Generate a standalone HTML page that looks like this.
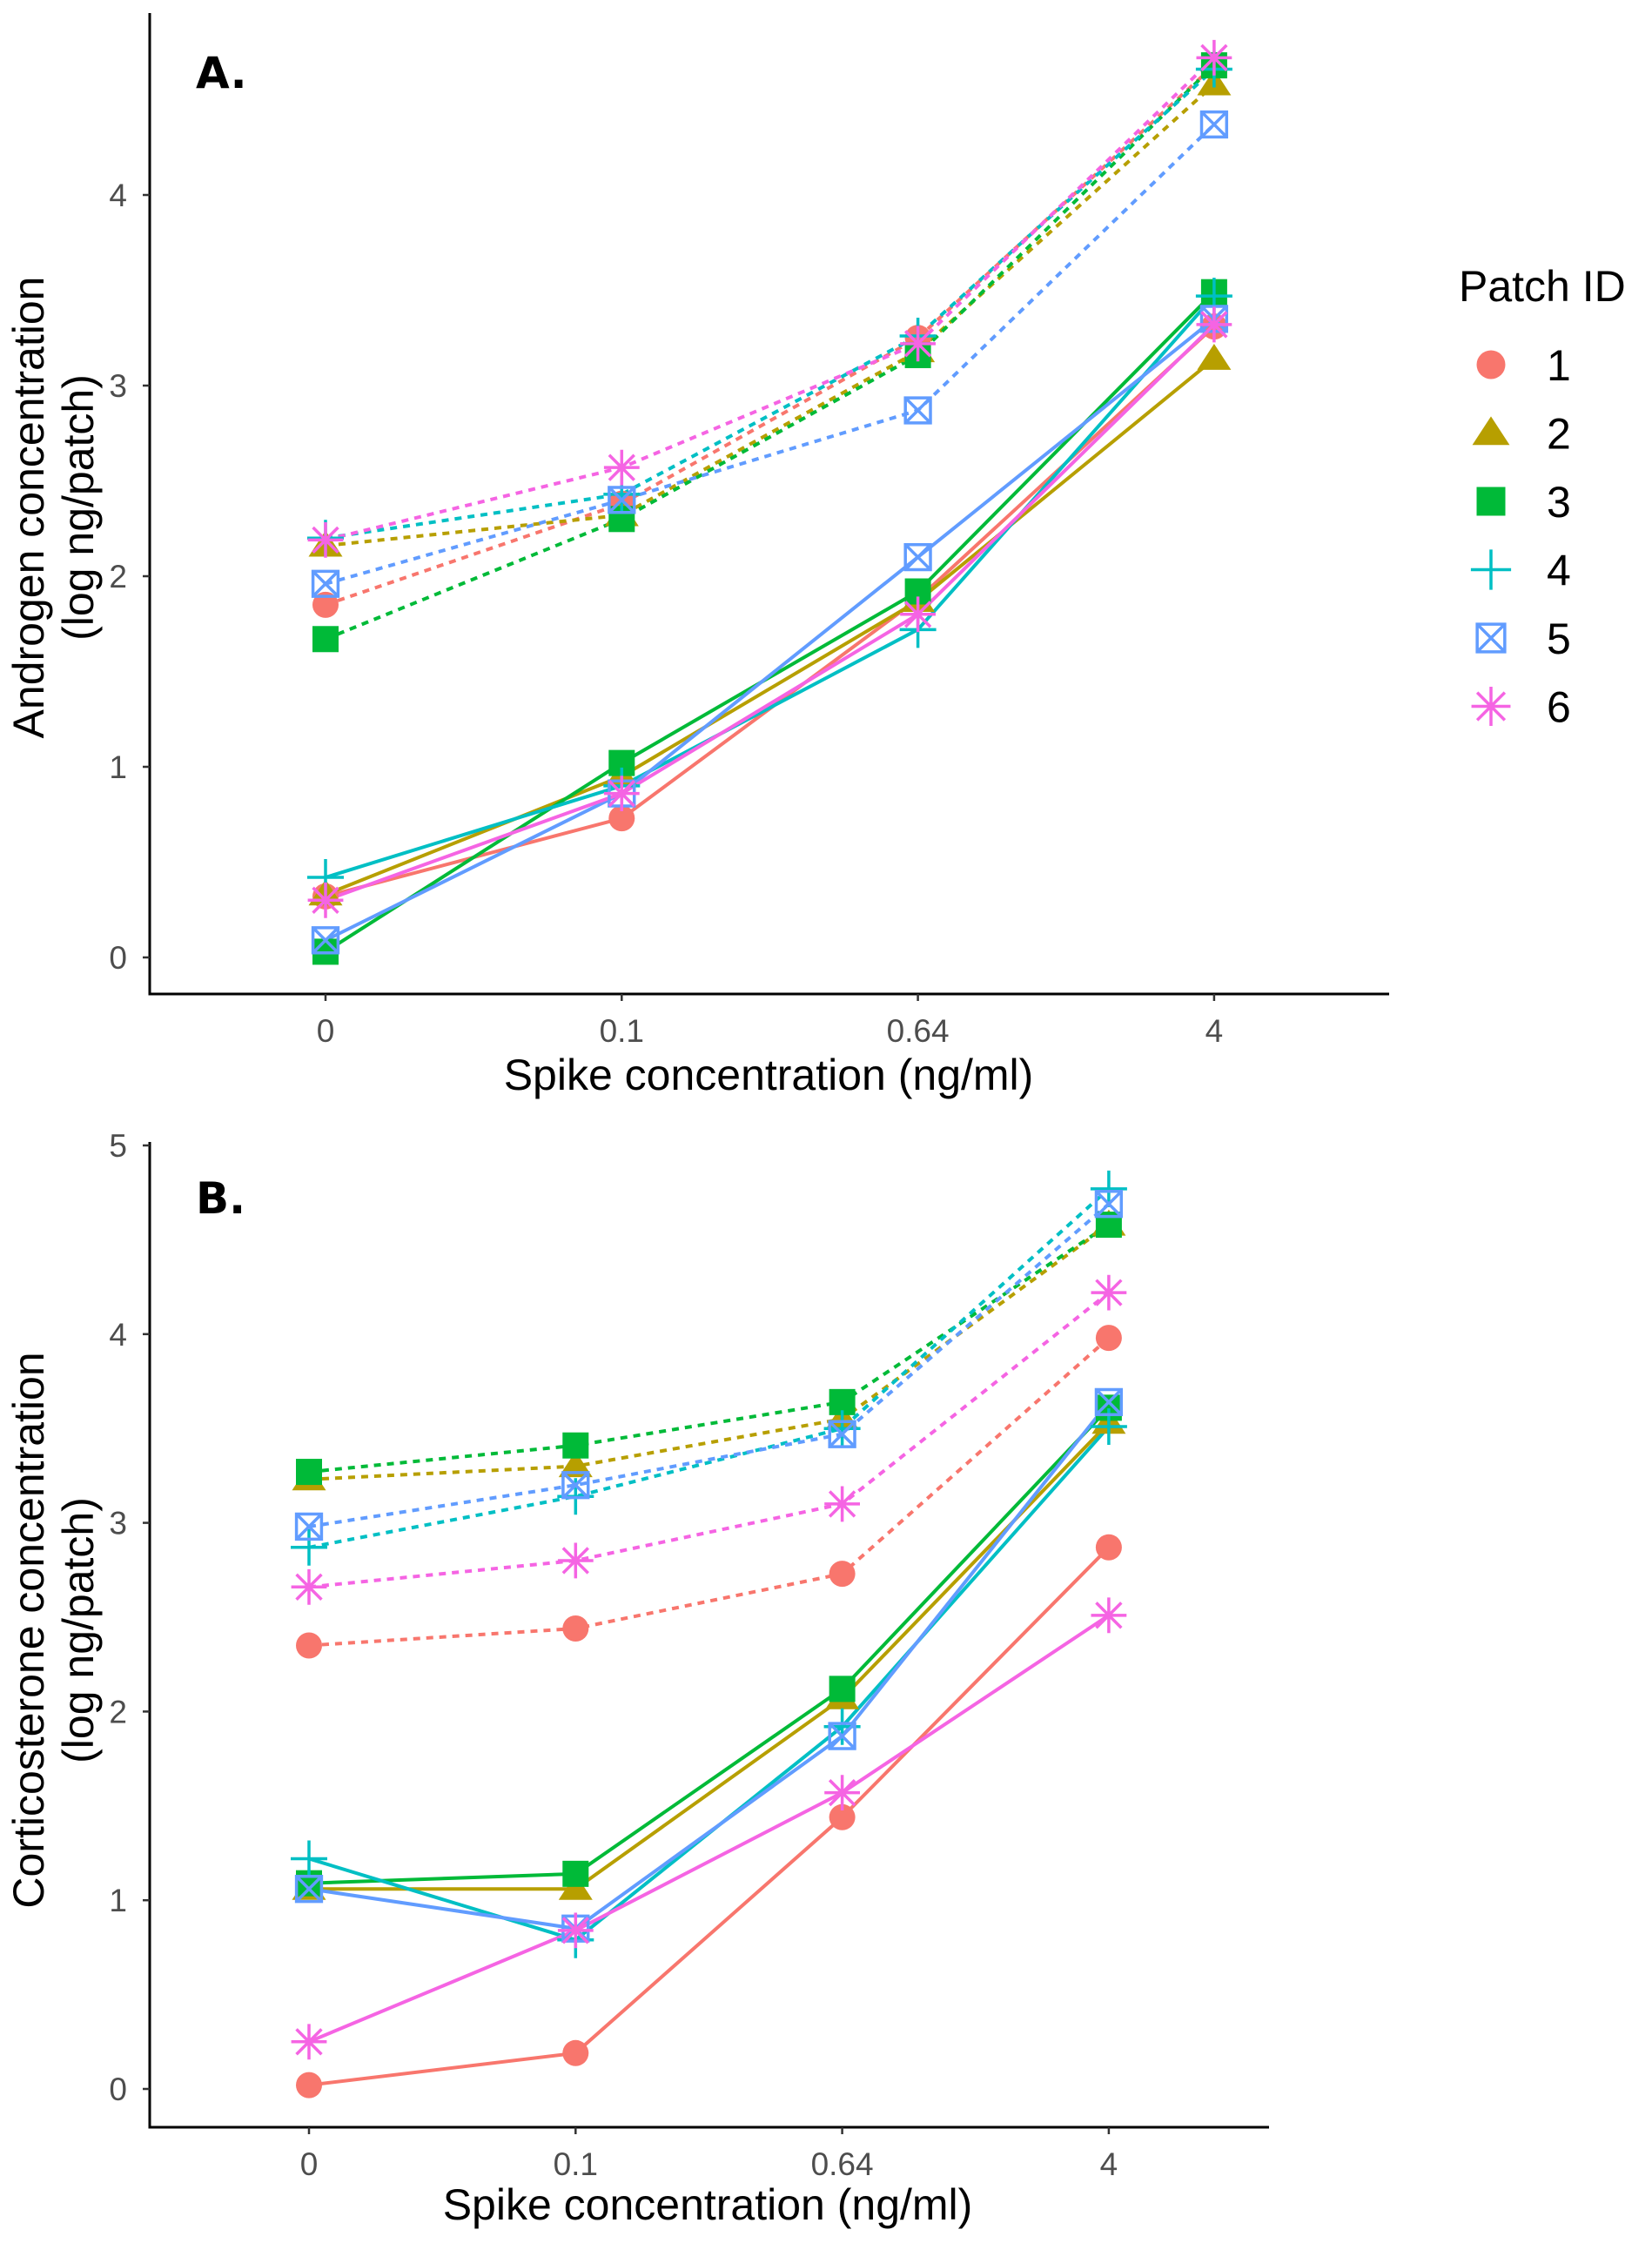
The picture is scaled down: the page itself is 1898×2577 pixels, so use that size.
<!DOCTYPE html>
<html><head><meta charset="utf-8"><style>
html,body{margin:0;padding:0;background:#fff}
svg{display:block;font-family:"Liberation Sans",sans-serif}
</style></head><body>
<svg id="fig" width="1898" height="2577" viewBox="0 0 1898 2577" xmlns="http://www.w3.org/2000/svg"></svg>
<script>
const categories = ["0","0.1","0.64","4"];
const colors = ["#F8766D","#B79F00","#00BA38","#00BFC4","#619CFF","#F564E3"];
const patchIds = ["1","2","3","4","5","6"];
// Panel A: androgen
const aDashed1=[1.85,2.38,3.25,4.68], aDashed2=[2.16,2.32,3.18,4.58], aDashed3=[1.67,2.30,3.16,4.68],
      aDashed4=[2.20,2.43,3.26,4.66], aDashed5=[1.96,2.40,2.87,4.37], aDashed6=[2.19,2.57,3.22,4.72];
const aSolid1=[0.32,0.73,1.88,3.31], aSolid2=[0.33,0.95,1.87,3.14], aSolid3=[0.03,1.02,1.92,3.49],
      aSolid4=[0.42,0.90,1.72,3.47], aSolid5=[0.09,0.86,2.10,3.35], aSolid6=[0.30,0.86,1.80,3.32];
// Panel B: corticosterone
const bDashed1=[2.35,2.44,2.73,3.98], bDashed2=[3.23,3.30,3.55,4.58], bDashed3=[3.27,3.41,3.64,4.58],
      bDashed4=[2.87,3.14,3.50,4.77], bDashed5=[2.98,3.20,3.47,4.69], bDashed6=[2.66,2.80,3.10,4.22];
const bSolid1=[0.02,0.19,1.44,2.87], bSolid2=[1.06,1.06,2.07,3.53], bSolid3=[1.09,1.14,2.12,3.61],
      bSolid4=[1.22,0.79,1.92,3.51], bSolid5=[1.06,0.85,1.87,3.64], bSolid6=[0.25,0.84,1.57,2.51];
const aTicks=[0,1,2,3,4];
const bTicks=[0,1,2,3,4,5];

const NS="http://www.w3.org/2000/svg";
const svg=document.getElementById('fig');
function mk(tag,attrs,parent){const e=document.createElementNS(NS,tag);for(const k in attrs)e.setAttribute(k,attrs[k]);(parent||svg).appendChild(e);return e;}

function marker(g,shape,cx,cy,col,s){
  let e;
  if(shape===0){e=mk('circle',{cx:cx,cy:cy,r:s*0.5,fill:col},g);}
  else if(shape===1){const h=s*0.58;e=mk('polygon',{points:`${cx},${cy-h} ${cx+s*0.65},${cy+h*0.72} ${cx-s*0.65},${cy+h*0.72}`,fill:col},g);}
  else if(shape===2){e=mk('rect',{x:cx-s*0.5,y:cy-s*0.5,width:s,height:s,fill:col},g);}
  else if(shape===3){e=mk('path',{d:`M${cx-s*0.7},${cy}H${cx+s*0.7}M${cx},${cy-s*0.7}V${cy+s*0.7}`,stroke:col,'stroke-width':3.5,fill:'none'},g);}
  else if(shape===4){const r=s*0.48;e=mk('path',{d:`M${cx-r},${cy-r}h${2*r}v${2*r}h${-2*r}zM${cx-r},${cy-r}L${cx+r},${cy+r}M${cx+r},${cy-r}L${cx-r},${cy+r}`,stroke:col,'stroke-width':3.5,fill:'none'},g);}
  else {const r=s*0.68,d=r*0.707;e=mk('path',{d:`M${cx-r},${cy}H${cx+r}M${cx},${cy-r}V${cy+r}M${cx-d},${cy-d}L${cx+d},${cy+d}M${cx+d},${cy-d}L${cx-d},${cy+d}`,stroke:col,'stroke-width':3.5,fill:'none'},g);}
  return e;
}

function panel(cfg){
  const {name,x0,xStep,y0,unit,axTop,axBottom,axRight,axLeft,ticks,dashed,solid,label,ytitle,xtitleX,xtitleY,ytitleY}=cfg;
  const X=i=>x0+i*xStep, Y=v=>y0-v*unit;
  const g=mk('g',{});
  
  
  const ya=mk('line',{x1:axLeft,y1:axTop,x2:axLeft,y2:axBottom,stroke:'#000','stroke-width':3},g);
  
  const xa=mk('line',{x1:axLeft-1.5,y1:axBottom,x2:axRight,y2:axBottom,stroke:'#000','stroke-width':3},g);
  
  ticks.forEach(t=>{
    mk('line',{x1:axLeft-8,y1:Y(t),x2:axLeft,y2:Y(t),stroke:'#333','stroke-width':2.5},g);
    const tl=mk('text',{x:axLeft-26,y:Y(t)+13,'text-anchor':'end','font-size':37,fill:'#4d4d4d'},g);
    tl.textContent=t;
    
  });
  categories.forEach((c,i)=>{
    mk('line',{x1:X(i),y1:axBottom,x2:X(i),y2:axBottom+8,stroke:'#333','stroke-width':2.5},g);
    const tl=mk('text',{x:X(i),y:axBottom+55,'text-anchor':'middle','font-size':37,fill:'#4d4d4d'},g);
    tl.textContent=c;
    
  });
  const draw=(series,dash,kind)=>{
    series.forEach((vals,k)=>{
      const p=mk('polyline',{points:vals.map((v,i)=>X(i)+','+Y(v)).join(' '),fill:'none',stroke:colors[k],'stroke-width':4,'stroke-dasharray':dash?'8 7':'none'},g);
      
      
    });
  };
  draw(dashed,true,'dashed');draw(solid,false,'solid');
  const pts=(series,kind)=>series.forEach((vals,k)=>vals.forEach((v,i)=>{
    const m=marker(g,k,X(i),Y(v),colors[k],30);
    
    
  }));
  pts(dashed,'dashed');pts(solid,'solid');
  const pl=mk('text',{x:225,y:cfg.labelY,'font-size':50,'font-weight':'bold','font-family':'"DejaVu Sans",sans-serif'},g);
  pl.textContent=label;
  const yt=mk('text',{transform:`translate(50,${ytitleY}) rotate(-90)`,'text-anchor':'middle','font-size':50},g);
  
  const t1=mk('tspan',{x:0,y:0},yt);t1.textContent=ytitle;
  const t2=mk('tspan',{x:0,dy:57},yt);t2.textContent='(log ng/patch)';
  const xt=mk('text',{x:xtitleX,y:xtitleY,'text-anchor':'middle','font-size':50},g);
  xt.textContent='Spike concentration (ng/ml)';
}

panel({name:'panel-a-androgen',x0:374,xStep:340.3,y0:1100,unit:219,axTop:15,axBottom:1142,axRight:1596,axLeft:172,ticks:aTicks,
  dashed:[aDashed1,aDashed2,aDashed3,aDashed4,aDashed5,aDashed6],solid:[aSolid1,aSolid2,aSolid3,aSolid4,aSolid5,aSolid6],
  label:'A.',labelY:101,ytitle:'Androgen concentration',xtitleX:883,xtitleY:1252,ytitleY:583});
panel({name:'panel-b-corticosterone',x0:355,xStep:306.3,y0:2400,unit:216.8,axTop:1312,axBottom:2444,axRight:1458,axLeft:172,ticks:bTicks,
  dashed:[bDashed1,bDashed2,bDashed3,bDashed4,bDashed5,bDashed6],solid:[bSolid1,bSolid2,bSolid3,bSolid4,bSolid5,bSolid6],
  label:'B.',labelY:1394,ytitle:'Corticosterone concentration',xtitleX:813,xtitleY:2550,ytitleY:1873});

const lg=mk('g',{});


const lt=mk('text',{x:1676,y:346,'font-size':50},lg);
lt.textContent='Patch ID';


patchIds.forEach((id,k)=>{
  const cy=419+k*78.5;
  const m=marker(lg,k,1713,cy,colors[k],33);
  
  
  const t=mk('text',{x:1777,y:cy+18,'font-size':50},lg);
  t.textContent=id;
  
  
});
</script>
</body></html>
